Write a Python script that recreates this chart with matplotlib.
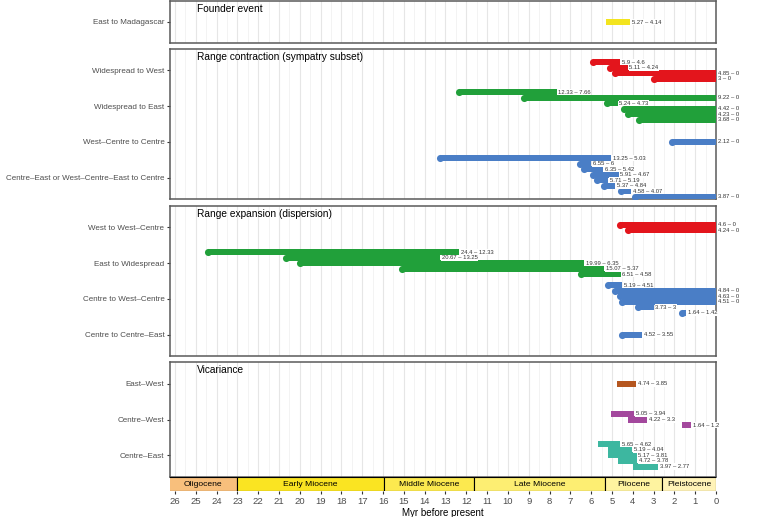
import matplotlib.pyplot as plt
import numpy as np

plt.rcParams['font.family'] = ['Liberation Sans', 'DejaVu Sans']

# ---- data (Myr before present) ----
founder_labels = ["East to Madagascar"]
founder_starts = [[5.27]]
founder_ends = [[4.14]]

contraction_labels = ["Widespread to West", "Widespread to East",
                      "West–Centre to Centre",
                      "Centre–East or West–Centre–East to Centre"]
contraction_starts = [[5.9, 5.11, 4.85, 3],
                      [12.33, 9.22, 5.24, 4.42, 4.23, 3.68],
                      [2.12],
                      [13.25, 6.55, 6.35, 5.91, 5.71, 5.37, 4.58, 3.87]]
contraction_ends = [[4.6, 4.24, 0, 0],
                    [7.66, 0, 4.73, 0, 0, 0],
                    [0],
                    [5.03, 6, 5.42, 4.67, 5.19, 4.84, 4.07, 0]]

expansion_labels = ["West to West–Centre", "East to Widespread",
                    "Centre to West–Centre", "Centre to Centre–East"]
expansion_starts = [[4.6, 4.24],
                    [24.4, 20.67, 19.99, 15.07, 6.51],
                    [5.19, 4.84, 4.63, 4.51, 3.73, 1.64],
                    [4.52]]
expansion_ends = [[0, 0],
                  [12.33, 13.25, 6.35, 5.37, 4.58],
                  [4.51, 0, 0, 0, 3, 1.42],
                  [3.55]]

vicariance_labels = ["East–West", "Centre–West", "Centre–East"]
vicariance_starts = [[4.74], [5.05, 4.22, 1.64], [5.65, 5.19, 5.17, 4.72, 3.97]]
vicariance_ends = [[3.85], [3.94, 3.3, 1.2], [4.62, 4.04, 3.81, 3.78, 2.77]]

epoch_names = ["Oligocene", "Early Miocene", "Middle Miocene", "Late Miocene",
               "Pliocene", "Pleistocene"]
epoch_starts = [33.9, 23.03, 15.97, 11.63, 5.333, 2.58]
epoch_ends = [23.03, 15.97, 11.63, 5.333, 2.58, 0]

# ---- styling ----
red, green, blue = "#E3151C", "#21A03A", "#4A7EC6"
brown, purple, teal, yellow = "#B5561F", "#A3489D", "#3DB7A0", "#F3E41F"
epoch_colours = ["#F8BF7C", "#FAE422", "#FCE94F", "#FDEE72", "#FEF3A0", "#FFF3B8"]

W, H = 763, 517
XL, XR = 26.24, 0
step = 0.154
bar_h = 0.17

fig = plt.figure(figsize=(W / 100, H / 100), dpi=100)


def px_axes(left, top, right, bottom):
    return fig.add_axes([left / W, 1 - bottom / H, (right - left) / W, (bottom - top) / H])


def draw_panel(ax, title, labels, starts, ends, colours, kind):
    n = len(labels)
    ax.set_xlim(XL, XR)
    ax.set_ylim(n - 1 + 0.6, -0.6)
    ax.set_xticks(np.arange(0, 27, 1))
    ax.set_xticks(np.arange(0.5, 26.5, 1), minor=True)
    ax.grid(which='major', axis='x', color='#E6E6E6', lw=0.8, zorder=0)
    ax.grid(which='minor', axis='x', color='#EFEFEF', lw=0.5, zorder=0)
    ax.set_axisbelow(True)
    ax.tick_params(axis='x', which='both', bottom=False, labelbottom=False)
    ax.set_yticks(range(n))
    ax.set_yticklabels(labels)
    ax.tick_params(axis='y', length=2.5, width=0.8, color='#333333',
                   labelcolor='#4D4D4D', labelsize=5.75, pad=1.5)
    for sp in ax.spines.values():
        sp.set_color('#5A5A5A')
        sp.set_linewidth(1.1)
    texts = []
    for k in range(n):
        m = len(starts[k])
        for i in range(m):
            y = k + (i - (m - 1) / 2) * step
            s, e = starts[k][i], ends[k][i]
            ax.barh(y, s - e, left=e, height=bar_h, color=colours[k], lw=0, zorder=3)
            if kind == 'dot':
                ax.scatter([s], [y], s=26, color=colours[k], lw=0, zorder=3)
            elif kind == 'mid':
                ax.scatter([(s + e) / 2], [y], s=12, color=colours[k], lw=0, zorder=3)
            texts.append((e, y, f"{s:g} – {e:g}"))
    for e, y, t in texts:
        ax.annotate(t, (e, y), xytext=(1.2, 0), textcoords='offset points',
                    ha='left', va='center', fontsize=4.2, color='#333333',
                    bbox=dict(boxstyle='square,pad=0.1', fc='white', ec='none'),
                    zorder=6, annotation_clip=False)
    ax.annotate(title, (0.049, 1), xycoords='axes fraction', xytext=(0, -2.5),
                textcoords='offset points', ha='left', va='top', fontsize=7.3)


ax1 = px_axes(170, 1, 716, 43)
ax2 = px_axes(170, 49, 716, 199)
ax3 = px_axes(170, 206, 716, 356)
ax4 = px_axes(170, 362, 716, 477)
axt = px_axes(170, 477, 716, 491)

draw_panel(ax1, "Founder event", founder_labels, founder_starts, founder_ends,
           [yellow], 'plain')
draw_panel(ax2, "Range contraction (sympatry subset)", contraction_labels,
           contraction_starts, contraction_ends, [red, green, blue, blue], 'dot')
draw_panel(ax3, "Range expansion (dispersion)", expansion_labels,
           expansion_starts, expansion_ends, [red, green, blue, blue], 'dot')
draw_panel(ax4, "Vicariance", vicariance_labels, vicariance_starts, vicariance_ends,
           [brown, purple, teal], 'mid')

# geological time scale strip
axt.set_xlim(XL, XR)
axt.set_ylim(0, 1)
for name, s, e, c in zip(epoch_names, epoch_starts, epoch_ends, epoch_colours):
    axt.barh(0.5, s - e, left=e, height=1, color=c, edgecolor='black', lw=0.8)
    mid = (min(s, XL) + e) / 2
    axt.text(mid, 0.5, name, ha='center', va='center', fontsize=6.1)
for sp in axt.spines.values():
    sp.set_visible(False)
axt.set_yticks([])
axt.set_xticks(np.arange(0, 27, 1))
axt.set_xticklabels([str(v) for v in range(27)])
axt.tick_params(axis='x', length=2.5, width=0.8, color='#333333',
                labelcolor='#4D4D4D', labelsize=6.8, pad=1.5)
axt.set_xlabel("Myr before present", fontsize=7, labelpad=2)

fig.savefig("out.png", dpi=100)
